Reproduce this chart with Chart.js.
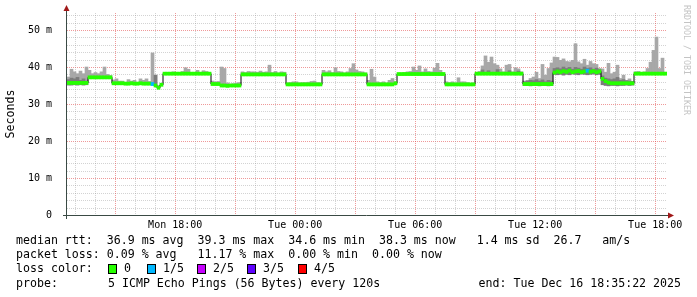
<!DOCTYPE html>
<html>
<head>
<meta charset="utf-8">
<script src="https://cdn.jsdelivr.net/npm/chart.js@4.4.0/dist/chart.umd.min.js"></script>
<style>
  html, body { margin: 0; background: #fff; }
  canvas { display: block; }
</style>
</head>
<body>
<canvas id="chart" width="697" height="297"></canvas>
<script>
// one sample every 9 minutes, window starts Mon 12:35:22 and runs 30 hours
const STEP = 9;
const START = 12 * 60 + 35 + 22 / 60;
const SPAN = 30 * 60;

// median rtt per sample, ms
const median = [
  35.7, 35.7, 35.7, 35.7, 35.7, 35.7, 35.7, 37.2, 37.2, 37.2,
  37.2, 37.2, 37.2, 37.2, 37.2, 35.6, 35.6, 35.6, 35.6, 35.5,
  35.5, 35.6, 35.5, 35.5, 35.6, 35.5, 35.5, 35.5, 35.4, 35.0,
  34.4, 35.2, 38.2, 38.2, 38.2, 38.2, 38.2, 38.2, 38.2, 38.2,
  38.2, 38.2, 38.2, 38.2, 38.2, 38.2, 38.2, 38.2, 35.4, 35.4,
  35.4, 35.0, 35.0, 34.9, 35.0, 35.0, 35.0, 35.0, 38.0, 38.0,
  38.0, 38.0, 38.0, 38.0, 38.0, 38.0, 38.0, 38.0, 38.0, 38.0,
  38.0, 38.0, 38.0, 35.3, 35.3, 35.3, 35.3, 35.3, 35.3, 35.3,
  35.3, 35.3, 35.3, 35.3, 35.3, 38.0, 38.0, 38.0, 38.0, 38.0,
  38.0, 38.0, 38.0, 38.0, 38.0, 38.0, 38.0, 38.0, 38.0, 38.0,
  35.3, 35.3, 35.3, 35.3, 35.3, 35.3, 35.3, 35.3, 35.3, 35.6,
  38.1, 38.1, 38.1, 38.1, 38.1, 38.1, 38.1, 38.1, 38.1, 38.1,
  38.1, 38.1, 38.1, 38.1, 38.1, 38.1, 35.3, 35.3, 35.3, 35.3,
  35.3, 35.3, 35.3, 35.3, 35.3, 35.3, 38.2, 38.2, 38.2, 38.2,
  38.2, 38.2, 38.2, 38.2, 38.2, 38.2, 38.2, 38.2, 38.2, 38.2,
  38.2, 38.2, 35.4, 35.4, 35.4, 35.4, 35.4, 35.4, 35.4, 35.4,
  35.4, 35.4, 38.5, 38.8, 38.6, 38.9, 38.7, 39.0, 38.6, 38.8,
  38.9, 38.6, 38.8, 39.0, 38.7, 38.9, 38.6, 38.8, 36.8, 36.2,
  35.8, 35.6, 35.6, 35.6, 35.6, 35.6, 35.6, 35.6, 35.6, 38.2,
  38.2, 38.2, 38.2, 38.2, 38.2, 38.2, 38.2, 38.2, 38.2, 38.2
];

// highest ping per sample (top of the smoke), ms
const smokeMax = [
  37.3, 39.4, 38.7, 38.2, 38.9, 38.2, 40.0, 39.1, 38.2, 38.5,
  38.2, 38.7, 40.0, 38.0, 37.7, 36.5, 36.8, 36.2, 36.2, 35.9,
  36.6, 36.2, 36.4, 35.9, 36.8, 36.4, 36.8, 36.1, 43.8, 37.8,
  35.0, 35.6, 38.2, 38.5, 38.5, 38.7, 38.5, 38.4, 38.8, 39.8,
  39.4, 38.5, 38.4, 39.1, 38.5, 39.0, 38.8, 38.5, 36.2, 36.0,
  36.1, 40.0, 39.6, 35.7, 35.4, 35.5, 35.7, 35.8, 38.7, 38.5,
  38.8, 38.7, 38.7, 38.6, 38.9, 38.6, 38.7, 40.5, 38.5, 38.8,
  38.4, 38.7, 38.6, 35.7, 35.8, 36.0, 36.0, 35.7, 35.8, 35.8,
  35.9, 36.1, 36.2, 35.8, 35.7, 39.1, 38.7, 39.0, 38.5, 39.8,
  38.8, 38.7, 38.4, 38.7, 39.6, 40.9, 39.2, 38.8, 38.7, 38.4,
  36.4, 39.4, 37.3, 36.0, 35.8, 36.0, 35.7, 36.4, 36.9, 36.0,
  38.2, 38.3, 38.5, 38.7, 38.8, 40.0, 39.1, 40.3, 38.7, 39.5,
  38.8, 38.7, 39.7, 41.0, 39.1, 38.4, 36.0, 35.8, 36.0, 35.7,
  37.1, 36.0, 36.0, 35.8, 35.5, 35.7, 38.2, 38.8, 40.3, 43.0,
  41.3, 42.7, 40.9, 40.5, 39.5, 38.7, 40.5, 40.7, 38.7, 39.8,
  39.5, 38.7, 36.2, 36.4, 36.9, 37.3, 38.6, 36.9, 40.7, 37.8,
  39.6, 41.1, 42.7, 42.6, 41.8, 42.2, 41.5, 41.4, 41.8, 46.3,
  41.4, 40.9, 42.1, 40.5, 41.5, 40.9, 40.7, 39.6, 39.5, 38.6,
  41.0, 38.2, 38.6, 40.5, 36.9, 37.8, 36.4, 36.8, 36.1, 38.7,
  38.8, 38.5, 38.7, 39.6, 41.3, 44.5, 48.1, 39.6, 42.4, 38.6
];

// denser core of the smoke, only where it shows
const darkIdx = [0, 1, 2, 3, 4, 5, 6, 29, 138, 140, 143, 147, 150,
  152, 153, 154, 155, 156, 157, 158, 159, 160, 161,
  162, 163, 164, 165, 166, 167, 168, 169, 170, 171, 172, 173, 174, 175, 176, 177,
  178, 179, 180, 181, 182, 183, 184, 185, 186, 187, 188];
const darkLo = [35.1, 35.1, 35.2, 35.1, 35.2, 35.1, 35.2, 35.2, 38.0, 38.0, 38.0, 38.0, 38.0,
  35.0, 35.0, 34.9, 35.0, 35.0, 34.9, 35.0, 35.0, 34.9, 35.0,
  38.0, 37.9, 38.0, 37.8, 38.0, 37.9, 38.1, 38.0, 37.9, 38.1, 38.0, 37.9, 38.0, 38.1, 37.9, 38.0,
  35.2, 35.0, 34.9, 35.0, 35.0, 34.9, 35.0, 35.0, 35.1, 35.0, 35.1];
const darkHi = [36.6, 37.0, 36.8, 37.2, 36.4, 36.8, 36.2, 37.8, 39.2, 39.0, 39.3, 39.0, 38.9,
  36.0, 36.2, 36.4, 36.3, 36.6, 36.2, 36.5, 36.0, 36.4, 36.2,
  39.6, 39.8, 39.5, 40.0, 39.6, 39.9, 39.4, 39.9, 39.7, 39.4, 40.0, 39.6, 39.8, 39.4, 39.7, 39.3,
  37.6, 37.0, 36.8, 36.6, 36.8, 37.2, 36.4, 36.6, 36.3, 36.2, 36.1];

// samples that lost a ping (loss level, in fifths)
const lossIdx = [28, 173];
const lossLevel = [1, 1];
const lossColors = ['#26ff00', '#00b8ff', '#c600ff', '#5e00ff', '#ff0000'];
const lossNames = ['0', '1/5', '2/5', '3/5', '4/5'];

// labelled x ticks, hours since Mon 00:00
const xTickHours = [18, 24, 30, 36, 42];
const xTickLabels = ['Mon 18:00', 'Tue 00:00', 'Tue 06:00', 'Tue 12:00', 'Tue 18:00'];
const yTickValues = [0, 10, 20, 30, 40, 50];

const legendLines = [
  'median rtt:  36.9 ms avg  39.3 ms max  34.6 ms min  38.3 ms now   1.4 ms sd  26.7   am/s',
  'packet loss: 0.09 % avg   11.17 % max  0.00 % min  0.00 % now'
];
const probeText = '5 ICMP Echo Pings (56 Bytes) every 120s';
const endText = 'end: Tue Dec 16 18:35:22 2025';

const MONO = '"DejaVu Sans Mono", monospace';
const MINOR = 'rgba(150,150,150,0.42)';
const MAJOR = 'rgba(225,70,70,0.55)';

const tAt = i => i * STEP + STEP / 2;

const smokeData = smokeMax.map((v, i) => ({ x: tAt(i), y: [median[i], v] }));
const darkData = darkIdx.map((idx, k) => ({ x: tAt(idx), y: [darkLo[k], darkHi[k]] }));
const medianLine = median.map((v, i) => ({ x: tAt(i), y: v }));
const medianBand = median.map((v, i) => ({ x: tAt(i), y: [v - 0.42, v + 0.42] }));
const bandColors = median.map((v, i) => {
  const k = lossIdx.indexOf(i);
  return lossColors[k < 0 ? 0 : lossLevel[k]];
});

const gridPlugin = {
  id: 'rrdGrid',
  beforeDatasetsDraw(chart) {
    const { ctx, chartArea: a, scales: { x, y } } = chart;
    ctx.save();
    ctx.lineWidth = 1;
    ctx.setLineDash([1, 1]);
    const line = (x1, y1, x2, y2, c) => {
      ctx.strokeStyle = c;
      ctx.beginPath();
      ctx.moveTo(x1, y1);
      ctx.lineTo(x2, y2);
      ctx.stroke();
    };
    for (let v = 2; v <= 54; v += 2) {
      const py = Math.round(y.getPixelForValue(v)) + 0.5;
      line(a.left, py, a.right, py, v % 10 ? MINOR : MAJOR);
    }
    for (let h = 13; h <= 42; h++) {
      const px = Math.round(x.getPixelForValue(h * 60 - START)) + 0.5;
      line(px, a.top, px, a.bottom, h % 3 ? MINOR : MAJOR);
    }
    ctx.restore();
  }
};

const framePlugin = {
  id: 'rrdFrame',
  afterDraw(chart) {
    const { ctx, chartArea: a } = chart;
    ctx.save();
    // axes
    ctx.strokeStyle = '#3a4a44';
    ctx.lineWidth = 1;
    ctx.beginPath();
    ctx.moveTo(a.left - 0.5, a.top - 4);
    ctx.lineTo(a.left - 0.5, a.bottom + 4);
    ctx.moveTo(a.left - 4, a.bottom + 0.5);
    ctx.lineTo(a.right + 3, a.bottom + 0.5);
    ctx.stroke();
    // arrows
    ctx.fillStyle = '#a01818';
    ctx.beginPath();
    ctx.moveTo(a.left - 0.5, a.top - 8);
    ctx.lineTo(a.left - 3.5, a.top - 2);
    ctx.lineTo(a.left + 2.5, a.top - 2);
    ctx.fill();
    ctx.beginPath();
    ctx.moveTo(a.right + 7, a.bottom + 0.5);
    ctx.lineTo(a.right + 1, a.bottom - 2.5);
    ctx.lineTo(a.right + 1, a.bottom + 3.5);
    ctx.fill();

    // y title
    ctx.fillStyle = '#000';
    ctx.font = '11.6px ' + MONO;
    ctx.textAlign = 'center';
    ctx.textBaseline = 'middle';
    ctx.save();
    ctx.translate(11, 114);
    ctx.rotate(-Math.PI / 2);
    ctx.fillText('Seconds', 0, 0);
    ctx.restore();

    // watermark
    ctx.save();
    ctx.fillStyle = '#c4c4c4';
    ctx.font = '8.3px ' + MONO;
    ctx.textAlign = 'left';
    ctx.translate(686, 5);
    ctx.rotate(Math.PI / 2);
    ctx.fillText('RRDTOOL / TOBI OETIKER', 0, 0);
    ctx.restore();

    // legend
    ctx.textAlign = 'left';
    ctx.fillStyle = '#000';
    ctx.fillText(legendLines[0], 16, 241);
    ctx.fillText(legendLines[1], 16, 255);
    ctx.fillText('loss color:', 16, 269);
    const boxX = [108, 147, 197, 247, 298];
    lossNames.forEach((name, k) => {
      ctx.fillStyle = lossColors[k];
      ctx.fillRect(boxX[k], 264, 8, 9);
      ctx.strokeStyle = '#000';
      ctx.strokeRect(boxX[k] + 0.5, 264.5, 8, 9);
      ctx.fillStyle = '#000';
      ctx.fillText(name, boxX[k] + 16, 269);
    });
    ctx.fillText('probe:', 16, 284);
    ctx.fillText(probeText, 108, 284);
    ctx.textAlign = 'right';
    ctx.fillText(endText, 681, 284);
    ctx.restore();
  }
};

Chart.defaults.font.family = MONO;
Chart.defaults.font.size = 10;
Chart.defaults.color = '#000';

new Chart(document.getElementById('chart'), {
  type: 'bar',
  data: {
    datasets: [
      {
        label: 'smoke',
        data: smokeData,
        backgroundColor: '#a8a8a8',
        grouped: false,
        barPercentage: 1,
        categoryPercentage: 1,
        order: 4
      },
      {
        label: 'smoke core',
        data: darkData,
        backgroundColor: '#7c7c7c',
        grouped: false,
        barPercentage: 1,
        categoryPercentage: 1,
        order: 3
      },
      {
        type: 'line',
        label: 'median',
        data: medianLine,
        borderColor: '#000',
        borderWidth: 1,
        stepped: 'middle',
        pointRadius: 0,
        order: 2
      },
      {
        label: 'median loss color',
        data: medianBand,
        backgroundColor: bandColors,
        grouped: false,
        barPercentage: 1,
        categoryPercentage: 1,
        order: 1
      }
    ]
  },
  options: {
    responsive: false,
    animation: false,
    devicePixelRatio: 1,
    layout: { padding: { top: 13, right: 30, left: 0, bottom: 0 } },
    plugins: { legend: { display: false }, tooltip: { enabled: false } },
    scales: {
      x: {
        type: 'linear',
        min: 0,
        max: SPAN,
        offset: false,
        grid: { display: false, offset: false },
        border: { display: false },
        afterFit: s => { s.height = 82; },
        afterBuildTicks: s => {
          s.ticks = xTickHours.map(h => ({ value: h * 60 - START }));
        },
        ticks: {
          autoSkip: false,
          maxRotation: 0,
          padding: -4,
          callback: (v, i) => xTickLabels[i]
        }
      },
      y: {
        min: 0,
        max: 54.6,
        grid: { display: false },
        border: { display: false },
        afterFit: s => { s.width = 67; },
        afterBuildTicks: s => {
          s.ticks = yTickValues.map(v => ({ value: v }));
        },
        ticks: {
          padding: 7,
          callback: v => (v === 0 ? '0' : v + ' m')
        }
      }
    }
  },
  plugins: [gridPlugin, framePlugin]
});
</script>
</body>
</html>
